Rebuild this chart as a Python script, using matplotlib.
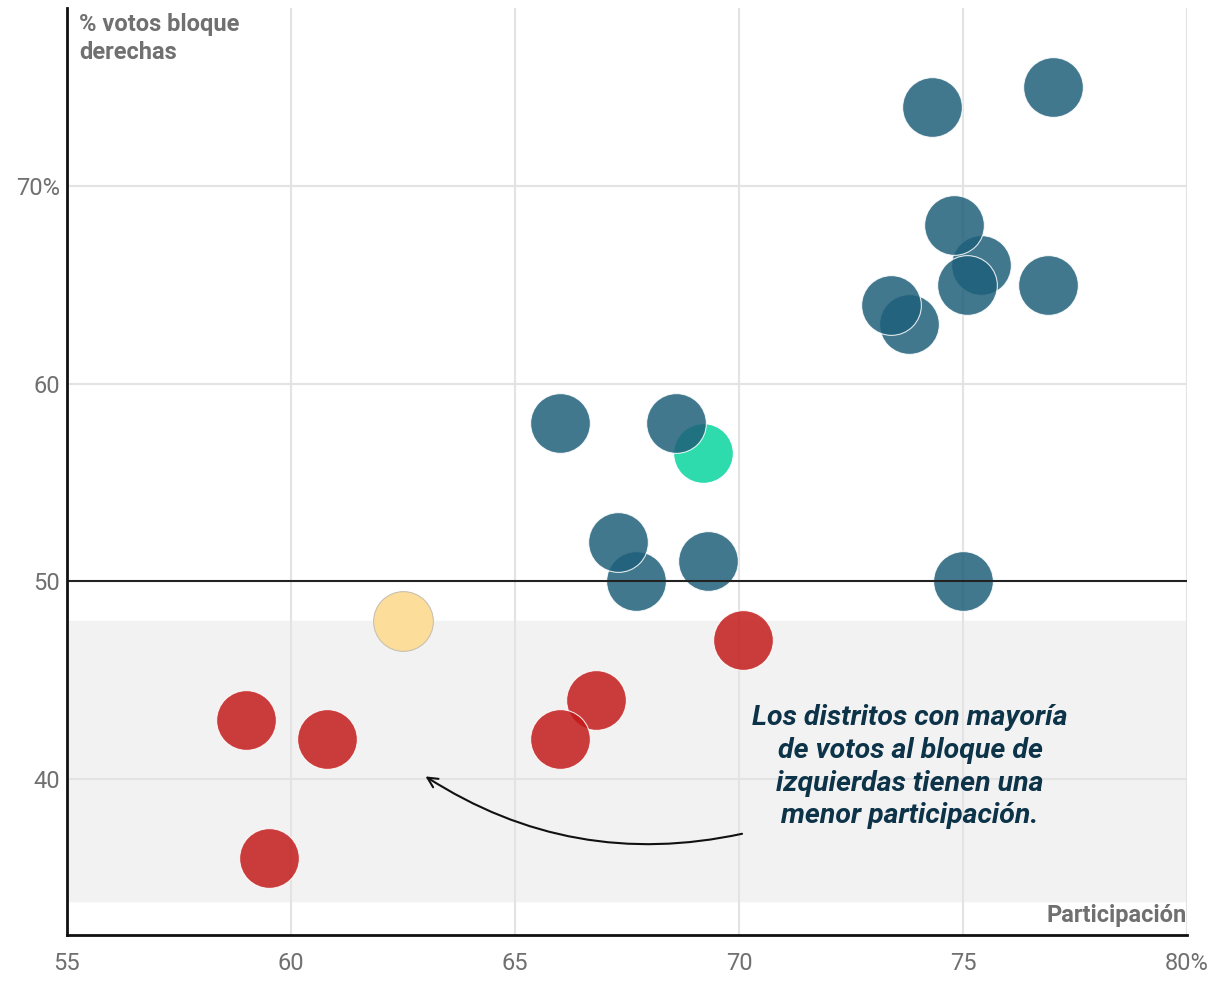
import matplotlib.pyplot as plt

plt.rcParams['font.family'] = ['Roboto', 'DejaVu Sans']

# datos: participación (%) y % votos bloque derechas por distrito
verde_x = [69.2]
verde_y = [56.5]
amarillo_x = [62.5]
amarillo_y = [48]
azul_x = [77.0, 74.3, 75.4, 74.8, 75.1, 76.9, 73.8, 73.4, 66.0, 68.6, 67.7, 67.3, 69.3, 75.0]
azul_y = [75, 74, 66, 68, 65, 65, 63, 64, 58, 58, 50, 52, 51, 50]
rojo_x = [70.1, 66.8, 66.0, 59.0, 60.8, 59.5]
rojo_y = [47, 44, 42, 43, 42, 36]

xticks = [55, 60, 65, 70, 75, 80]
xlabels = ['55', '60', '65', '70', '75', '80%']
yticks = [40, 50, 60, 70]
ylabels = ['40', '50', '60', '70%']

fig = plt.figure(figsize=(12.2, 10.06), dpi=100)
ax = fig.add_axes([0.0549, 0.0706, 0.9180, 0.9214])

# franja gris
ax.axhspan(33.8, 48, color='#f2f2f2', zorder=0)

# rejilla
for x in xticks[1:]:
    ax.axvline(x, color='#e3e3e3', lw=1.5, zorder=1)
for y in [40, 60, 70]:
    ax.axhline(y, color='#e3e3e3', lw=1.5, zorder=1)

s = 1850
ax.scatter(verde_x, verde_y, s=s, color='#2ddbad', edgecolor='white', lw=0.8, zorder=3)
ax.scatter(amarillo_x, amarillo_y, s=s, color='#fddd9a', edgecolor='#c9c0b0', lw=0.8, zorder=3)
ax.scatter(azul_x, azul_y, s=s, color='#1f607a', alpha=0.85, edgecolor='white', lw=0.8, zorder=4)
ax.scatter(rojo_x, rojo_y, s=s, color='#c31b1b', alpha=0.85, edgecolor='white', lw=0.8, zorder=4)

# línea del 50%
ax.axhline(50, color='#222222', lw=1.5, zorder=5)

ax.set_xlim(55, 80)
ax.set_ylim(32.1, 79)
ax.set_xticks(xticks)
ax.set_xticklabels(xlabels)
ax.set_yticks(yticks)
ax.set_yticklabels(ylabels)
ax.tick_params(length=0, labelsize=17, labelcolor='#707070')
ax.tick_params(axis='x', pad=12)
ax.tick_params(axis='y', pad=5)

for side in ['top', 'right']:
    ax.spines[side].set_visible(False)
for side in ['left', 'bottom']:
    ax.spines[side].set_linewidth(2)
    ax.spines[side].set_color('#111111')
    ax.spines[side].set_zorder(6)

ax.text(55.27, 78.75, '% votos bloque\nderechas', fontsize=17, fontweight='bold',
        color='#707070', va='top', ha='left', linespacing=1.3)
ax.text(80, 33.1, 'Participación', fontsize=17, fontweight='bold',
        color='#707070', va='center', ha='right')

ax.text(73.82, 40.6, 'Los distritos con mayoría\nde votos al bloque de\nizquierdas tienen una\nmenor participación.',
        fontsize=20.5, fontweight='bold', style='italic', color='#0d3349',
        ha='center', va='center', linespacing=1.27, zorder=6)

ax.annotate('', xy=(62.95, 40.2), xytext=(70.13, 37.25),
            arrowprops=dict(arrowstyle='->', color='#111111', lw=1.5,
                            mutation_scale=18,
                            connectionstyle='arc3,rad=-0.21'), zorder=6)

fig.savefig('out.png', dpi=100)
